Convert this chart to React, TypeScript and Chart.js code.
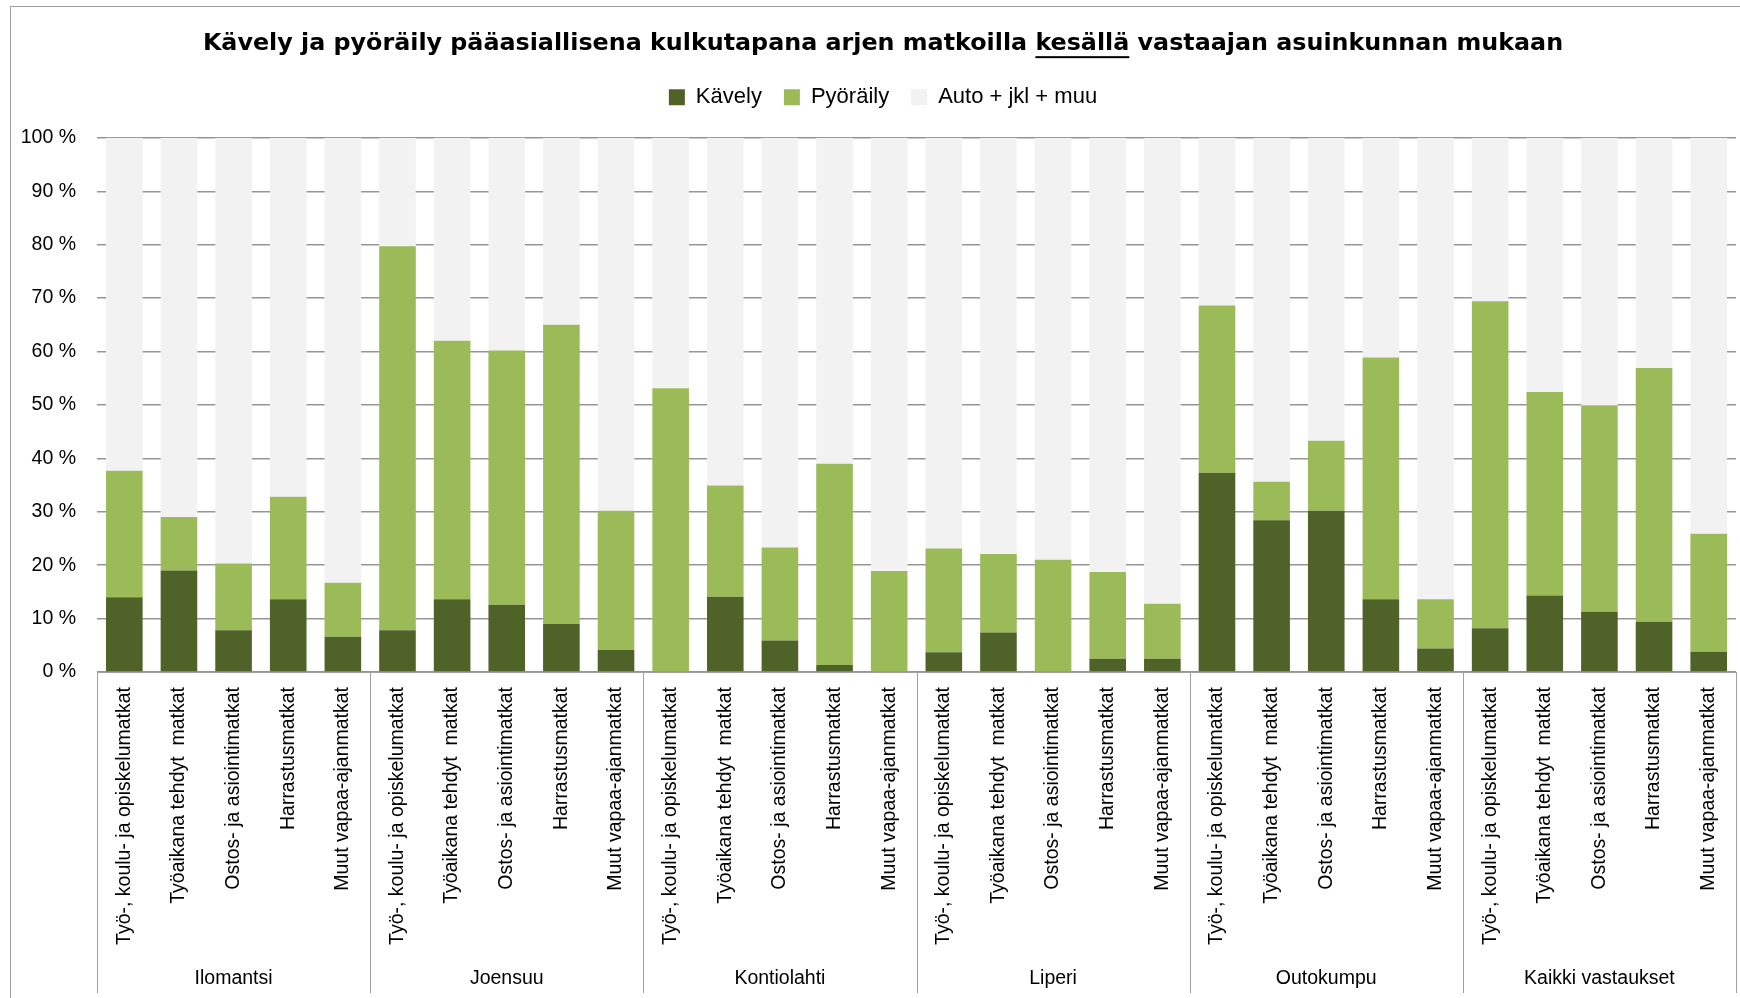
import React, { useEffect, useRef } from 'react';
import { Chart, registerables } from 'chart.js';

Chart.register(...registerables);

const TITLE = 'Kävely ja pyöräily pääasiallisena kulkutapana arjen matkoilla kesällä vastaajan asuinkunnan mukaan';
const UNDERLINED_WORD = 'kesällä';

const MUNICIPALITIES = ['Ilomantsi', 'Joensuu', 'Kontiolahti', 'Liperi', 'Outokumpu', 'Kaikki vastaukset'];
const TRIP_TYPES = [
  'Työ-, koulu- ja opiskelumatkat',
  'Työaikana tehdyt  matkat',
  'Ostos- ja asiointimatkat',
  'Harrastusmatkat',
  'Muut vapaa-ajanmatkat',
];
const SERIES_NAMES = ['Kävely', 'Pyöräily', 'Auto + jkl + muu'];

// Kävely (%), per municipality x trip type
const WALKING = [
  14.0, 19.0, 7.8, 13.6, 6.6,
  7.8, 13.6, 12.6, 9.0, 4.1,
  0.0, 14.1, 5.9, 1.3, 0.0,
  3.7, 7.4, 0.0, 2.5, 2.5,
  37.3, 28.4, 30.2, 13.6, 4.4,
  8.2, 14.3, 11.3, 9.4, 3.8,
];
// Pyöräily (%)
const CYCLING = [
  23.7, 10.0, 12.5, 19.2, 10.1,
  71.9, 48.4, 47.6, 56.0, 26.1,
  53.1, 20.8, 17.4, 37.7, 18.9,
  19.4, 14.7, 21.0, 16.2, 10.3,
  31.3, 7.2, 13.1, 45.3, 9.2,
  61.2, 38.1, 38.6, 47.5, 22.1,
];
// Auto + jkl + muu = the remainder up to 100 %
const OTHER = WALKING.map((w, i) => Math.round((100 - w - CYCLING[i]) * 10) / 10);

const Y_MIN = 0;
const Y_MAX = 100;
const Y_STEP = 10;

const CATEGORY_LABELS = MUNICIPALITIES.flatMap(() => TRIP_TYPES);

const COLORS = ['#4F6228', '#9BBB59', '#F2F2F2'];
const TEXT_FONT = '"Liberation Sans", Arial, sans-serif';
const TITLE_FONT = '"DejaVu Sans", sans-serif';
const TITLE_SIZE = 23.8;
const TICK_SIZE = 19.5;
const GRID_COLOR = '#959595';
const AXIS_COLOR = '#A0A0A0';

const CANVAS_W = 1746;
const CANVAS_H = 995;

const underlinePlugin = {
  id: 'underlineWord',
  afterDraw(chart: any) {
    const t = chart.titleBlock;
    if (!t) return;
    const ctx = chart.ctx as CanvasRenderingContext2D;
    ctx.save();
    ctx.font = `bold ${TITLE_SIZE}px ${TITLE_FONT}`;
    const full = ctx.measureText(TITLE).width;
    const idx = TITLE.indexOf(UNDERLINED_WORD);
    const pre = ctx.measureText(TITLE.slice(0, idx)).width;
    const w = ctx.measureText(UNDERLINED_WORD).width;
    const cx = (t.left + t.right) / 2;
    const pad = t.options.padding;
    const padTop = typeof pad === 'number' ? pad : pad.top;
    const mid = t.top + padTop + (TITLE_SIZE * 1.2) / 2;
    const x0 = cx - full / 2 + pre;
    ctx.fillStyle = '#000';
    ctx.fillRect(x0, mid + TITLE_SIZE * 0.52, w, 2);
    ctx.restore();
  },
};

const groupLinesPlugin = {
  id: 'groupLines',
  afterDraw(chart: any) {
    const x = chart.scales.x;
    const x2 = chart.scales.x2;
    if (!x || !x2) return;
    const ctx = chart.ctx as CanvasRenderingContext2D;
    const n = TRIP_TYPES.length;
    const total = CATEGORY_LABELS.length;
    ctx.save();
    ctx.strokeStyle = AXIS_COLOR;
    ctx.lineWidth = 1;
    for (let g = 0; g <= MUNICIPALITIES.length; g++) {
      const i = g * n;
      let px: number;
      if (i === 0) px = x.left;
      else if (i >= total) px = x.right;
      else px = (x.getPixelForValue(i - 1) + x.getPixelForValue(i)) / 2;
      const rx = Math.round(px) + 0.5;
      ctx.beginPath();
      ctx.moveTo(rx, x.top);
      ctx.lineTo(rx, x2.bottom);
      ctx.stroke();
    }
    ctx.restore();
  },
};

export default function App() {
  const canvasRef = useRef<HTMLCanvasElement | null>(null);

  useEffect(() => {
    const canvas = canvasRef.current;
    if (!canvas) return;
    const values = [WALKING, CYCLING, OTHER];
    const chart = new Chart(canvas, {
      type: 'bar',
      data: {
        labels: CATEGORY_LABELS,
        datasets: SERIES_NAMES.map((name, k) => ({
          label: name,
          data: values[k],
          backgroundColor: COLORS[k],
          borderWidth: 0,
          barPercentage: 0.67,
          categoryPercentage: 1.0,
        })),
      },
      options: {
        responsive: false,
        animation: false,
        devicePixelRatio: 1,
        layout: { padding: { left: 10, right: 12, top: 0, bottom: 9 } },
        plugins: {
          title: {
            display: true,
            text: TITLE,
            color: '#000',
            font: { family: TITLE_FONT, size: TITLE_SIZE, weight: 'bold', lineHeight: 1.2 },
            padding: { top: 22.5, bottom: 6.2 },
          },
          subtitle: {
            display: true,
            text: '',
            weight: 500,
            font: { size: 1, lineHeight: 1 },
            padding: { top: 0, bottom: 18.6 },
          },
          legend: {
            display: true,
            position: 'top',
            labels: {
              boxWidth: 16,
              boxHeight: 16,
              padding: 22,
              color: '#000',
              font: { family: TEXT_FONT, size: 22 },
            },
          },
          tooltip: { enabled: false },
        },
        scales: {
          x: {
            type: 'category',
            stacked: true,
            weight: 0,
            grid: { display: false, drawTicks: false },
            border: { display: true, color: AXIS_COLOR, width: 1 },
            ticks: {
              autoSkip: false,
              minRotation: 90,
              maxRotation: 90,
              padding: 15,
              color: '#000',
              font: { family: TEXT_FONT, size: TICK_SIZE },
            },
            afterFit(scale: any) {
              scale.height = 285;
            },
          },
          x2: {
            type: 'category',
            position: 'bottom',
            labels: MUNICIPALITIES,
            offset: true,
            weight: 1,
            grid: { display: false, drawTicks: false },
            border: { display: false },
            ticks: {
              autoSkip: false,
              maxRotation: 0,
              minRotation: 0,
              padding: 10,
              color: '#000',
              font: { family: TEXT_FONT, size: TICK_SIZE },
            },
            afterFit(scale: any) {
              scale.height = 36;
            },
          },
          y: {
            stacked: true,
            min: Y_MIN,
            max: Y_MAX,
            grid: { color: GRID_COLOR, lineWidth: 1.5, drawTicks: false },
            border: { display: false },
            ticks: {
              stepSize: Y_STEP,
              padding: 21,
              color: '#000',
              font: { family: TEXT_FONT, size: TICK_SIZE },
              callback: (v: any) => `${v} %`,
            },
            afterFit(scale: any) {
              scale.width = 76;
            },
          },
          yRight: {
            type: 'linear',
            position: 'right',
            display: true,
            grid: { display: false, drawTicks: false },
            border: { display: false },
            ticks: { display: false },
            afterFit(scale: any) {
              scale.width = 9;
            },
          },
        },
      },
      plugins: [underlinePlugin, groupLinesPlugin],
    } as any);
    return () => chart.destroy();
  }, []);

  return (
    <div
      style={{
        position: 'fixed',
        left: 0,
        top: 0,
        width: 1740,
        height: 998,
        overflow: 'hidden',
        background: '#fff',
      }}
    >
      <div
        style={{
          position: 'absolute',
          left: 10,
          top: 6,
          width: CANVAS_W,
          height: CANVAS_H,
          border: '1px solid #A0A0A0',
        }}
      >
        <canvas
          ref={canvasRef}
          width={CANVAS_W}
          height={CANVAS_H}
          style={{ display: 'block', width: CANVAS_W, height: CANVAS_H }}
        />
      </div>
    </div>
  );
}
